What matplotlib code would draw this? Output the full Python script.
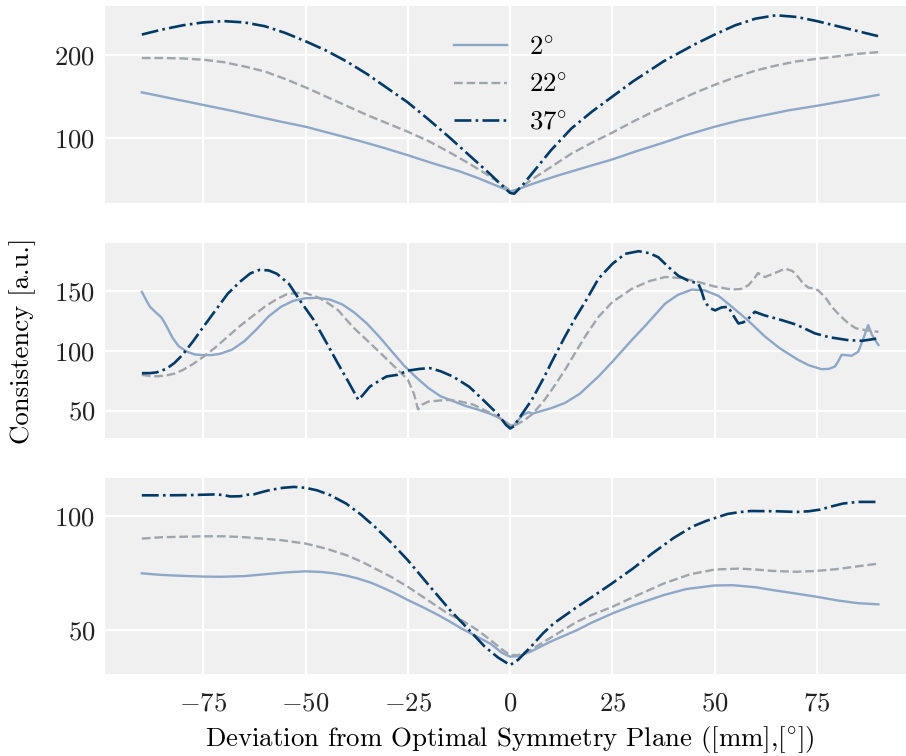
import numpy as np
import matplotlib
matplotlib.use("Agg")
import matplotlib.pyplot as plt

plt.rcParams['font.family'] = ['cmr10', 'DejaVu Serif']
plt.rcParams['mathtext.fontset'] = 'cm'
plt.rcParams['axes.formatter.use_mathtext'] = True
plt.rcParams['axes.unicode_minus'] = True

labels = ['$2^{\\circ}$', '$22^{\\circ}$', '$37^{\\circ}$']
colors = ['#8da7c9', '#9ea5ad', '#023a67']
styles = ['-', '--', '-.']

# --- top panel ---
top_x2 = [-90, -82.5, -75, -67.5, -62.5, -56, -50, -43, -37.5, -31, -25, -19, -12.5, -8, -5, -2, 0,
          2, 5, 8, 12.5, 18, 25, 31, 37.5, 43, 50, 56, 62.5, 68, 75, 82, 90]
top_y2 = [155, 147.5, 140, 132.5, 127, 120, 114, 105, 98, 89, 80, 70.5, 61, 53, 47, 41, 37,
          39.5, 45, 50, 57, 65, 75, 85, 95, 104, 114, 121.5, 128, 133.5, 139, 145, 152]
top_x22 = [-90, -85, -80, -75, -70, -65, -60, -55, -50, -45, -40, -35, -30, -25, -20, -15, -10, -5, -2, 0,
           1, 3, 5, 10, 15, 20, 25, 30, 35, 40, 45, 50, 55, 60, 65, 70, 75, 80, 85, 90]
top_y22 = [196, 196, 195.5, 194, 191, 186, 180, 171, 161, 150, 139, 128, 118, 108, 97, 84, 70, 55, 45, 38,
           36.5, 43, 50, 66, 82, 95, 107, 120, 132, 143, 154, 164, 173, 181, 187, 192, 195, 198, 201, 203]
top_x37 = [-90, -85, -80, -75, -70, -65, -60, -55, -50, -45, -40, -35, -30, -25, -20, -15, -10, -5, -2, 0,
           1, 3, 5, 10, 15, 20, 25, 30, 37.5, 45, 50, 55, 60, 65, 70, 75, 80, 85, 90]
top_y37 = [224, 230, 235, 238.5, 240, 238.5, 234, 226, 216, 205, 192, 177, 160, 143, 123, 102, 80, 58, 44, 35,
           34, 44, 56, 86, 112, 132, 150, 168, 192, 212, 224, 235, 243, 247, 245, 240, 234, 228, 222]

# --- middle panel ---
mid_x2 = [-90, -89, -88, -86.8, -85.2, -84, -82.5, -81, -79, -77, -75, -73, -71, -68, -65, -62, -59, -56,
          -53, -50, -47, -44, -41, -38, -35, -32, -29, -26, -23, -20, -17, -14, -11, -8, -5, -3, -1, 0,
          1, 2, 3, 4.5, 5.5, 7, 10, 13.4, 17, 21.6, 25, 29.7, 33, 37.9, 41, 44.4, 47.6, 51, 54.2, 58,
          62.3, 66, 70.4, 73, 76.1, 78, 79.4, 80.3, 81, 82, 83.5, 85.1, 86.5, 87.5, 88.5, 90]
mid_y2 = [149.5, 143, 137, 133, 128, 121, 111, 104, 99.4, 97, 96.5, 96.5, 97.5, 101, 108, 118, 129, 137,
          142, 144.2, 144.5, 143, 139, 132, 123, 112, 100, 88, 78, 69, 62, 58, 54, 51, 47.5, 44.5, 40, 37,
          38, 42, 46, 48.6, 47.5, 49, 52, 56.4, 64, 78.6, 91, 109, 121, 139.7, 147, 151.4, 150.8, 146, 137, 126,
          112, 102, 92.5, 88, 84.7, 85, 87, 92, 96.7, 96.5, 96, 99.4, 112, 121.7, 113, 105]
mid_x22 = [-90, -88, -86, -84, -82, -80, -77.5, -75, -72, -69, -66, -63, -60, -57, -54.6, -52, -50, -47,
           -44.9, -42, -38.4, -35, -31, -28, -25, -23.5, -22.5, -21.5, -20, -17, -14.7, -12, -9, -6, -2.5,
           -1, 0.5, 2, 3.5, 5.3, 8, 10.5, 13.4, 16, 18.5, 21.6, 25, 29.7, 34, 37.9, 42, 46, 50, 54.2, 56.5,
           58.2, 59.5, 60.6, 61.5, 62.3, 64.5, 67.2, 69, 70.4, 71.5, 72.9, 74, 75.3, 77, 78.6, 80.5, 82.7,
           84.5, 86.7, 90]
mid_y22 = [80, 79, 78.8, 79.5, 81, 84, 89, 95, 103, 112, 121, 129, 137, 143.5, 147.5, 148.6, 148.5, 145,
           141, 134, 120, 109, 96, 86, 76, 64, 51, 55, 57.5, 58.5, 59, 57.5, 55, 50, 44,
           40, 37, 39, 42, 46.7, 57, 69, 84, 99, 113, 128.6, 141, 152, 158.5, 162, 161, 157.8, 154, 151.4, 152,
           155, 160, 165.3, 163, 162, 165, 169, 167, 162, 157, 153, 152.5, 150.8, 145, 137, 130, 123,
           119, 117.5, 116]
mid_x37 = [-90, -88, -86.4, -84, -82, -80, -77.5, -75, -72, -69, -66, -63.5, -61.2, -59, -57, -54, -51.4,
           -48, -44.9, -42, -39.5, -37.1, -36, -34.3, -32, -30.2, -27.5, -25, -22, -19.6, -17, -14, -10,
           -6.6, -3, -1, 0, 1, 2, 3.5, 5.3, 8, 10.5, 13.4, 16, 18.5, 21.6, 25, 28.1, 31.4, 34, 36.2, 38.5,
           41.1, 43.5, 46, 46.8, 47.6, 48.8, 50.1, 51.7, 53.3, 54.5, 55.8, 57, 58.2, 59.8, 62, 66.4, 70,
           74.5, 78, 82.7, 86, 88, 90]
mid_y37 = [81.4, 81.4, 82, 85, 90, 97, 108, 120, 134, 148, 158, 165, 168, 167.5, 164.7, 156, 142.5,
           126, 107, 89, 74, 59, 63, 70, 75, 78.6, 80, 83.5, 85, 85.6, 83, 78.6, 70,
           59, 47, 38, 35, 37, 42.5, 50, 59, 76, 93, 112, 128, 142, 160.6, 173, 181.4, 183.6, 182, 178.6, 171,
           163, 159, 156.4, 150, 141, 136, 134, 136.5, 137, 130, 123, 124, 127, 132.8, 130, 125.8, 122,
           114.7, 111.5, 109, 108.5, 109.5, 110.6]

# --- bottom panel ---
bot_x2 = [-90, -85, -80, -75, -70.6, -65, -61.3, -55, -50, -46, -43, -40, -37.3, -34, -31, -28, -25,
          -21.5, -18, -15, -11.9, -8, -4.8, -2, 0, 2, 5, 10, 16.4, 20, 25, 30, 37.6, 43, 50, 54.5, 60,
          64.4, 70, 75, 80, 85, 90]
bot_y2 = [74.9, 74.2, 73.8, 73.5, 73.4, 73.7, 74.3, 75.3, 75.8, 75.5, 74.9, 73.9, 72.7, 70.8, 68.5, 66, 63.2,
          60.2, 57, 54, 50.7, 47, 44, 40, 38.3, 38.5, 40.5, 45, 50, 53.3, 57.3, 60.8, 65.4, 68, 69.6, 69.7, 68.8,
          67.5, 66, 64.6, 63, 61.8, 61.3]
bot_x22 = [-90, -85, -80, -75, -70, -66, -62.7, -56, -50, -45, -40, -36, -33, -29, -25, -20, -15, -11.9,
           -8, -4.8, -2, 0, 2, 5, 10.7, 16.4, 20, 25, 30, 37.6, 44, 50, 56, 60, 64, 70, 75, 80, 85, 90]
bot_y22 = [90.2, 90.8, 91, 91.2, 91.2, 90.9, 90.5, 89.5, 88, 85.8, 82.9, 79.8, 77, 73.3, 69, 63, 57, 54.4,
           50, 45.6, 41.5, 39, 39, 41.2, 47.5, 53.7, 56.7, 60.2, 64.4, 70.5, 74.5, 76.6, 77, 76.6, 76, 75.6, 76,
           76.8, 78, 79.2]
bot_x37 = [-90, -84, -78.2, -72, -70, -68.4, -66, -64, -62.7, -60.5, -58.5, -55.5, -52.8, -50, -47.2, -44,
           -40.1, -36.5, -33, -29, -25, -20, -14.7, -10, -6.2, -3, 0, 2, 5.1, 8, 10.7, 13.5, 16.4, 20, 24.9,
           30, 34.7, 40, 44.6, 48, 53.1, 56, 58.8, 65, 70.1, 73, 75.7, 78.5, 81.4, 85, 90]
bot_y37 = [109.2, 109.2, 109.3, 109.6, 109.3, 108.7, 108.8, 109.5, 109.6, 110.7, 111.6, 112.5, 112.9, 112.5,
           111.4, 109.3, 105.6, 100.8, 95.3, 88.3, 80.7, 70, 58.8, 50, 42.7, 38, 34.6, 37, 42.7, 48.5, 53,
           56.5, 60.2, 64.5, 70.5, 77, 83.6, 90.5, 95.5, 98, 101, 101.8, 102.3, 102.2, 101.9, 102.2, 102.9,
           104.3, 105.6, 106.3, 106.3]

panels = [
    ([top_x2, top_x22, top_x37], [top_y2, top_y22, top_y37], (23, 258), [100, 200]),
    ([mid_x2, mid_x22, mid_x37], [mid_y2, mid_y22, mid_y37], (27, 190.5), [50, 100, 150]),
    ([bot_x2, bot_x22, bot_x37], [bot_y2, bot_y22, bot_y37], (30.7, 116.8), [50, 100]),
]
# axes boxes in figure fraction (bottom, top)
boxes = [(0.7315, 0.992), (0.4206, 0.6786), (0.1085, 0.3677)]
fs = 19.3

fig = plt.figure(figsize=(9.06, 7.56), dpi=100)
axes = []
for (xs, ys, ylim, yt), (b, t) in zip(panels, boxes):
    ax = fig.add_axes([0.1159, b, 1.0 - 0.1159, t - b])
    ax.set_facecolor('#f0f0f0')
    for s in ax.spines.values():
        s.set_visible(False)
    ax.grid(True, color='white', linewidth=1.6)
    ax.set_axisbelow(True)
    for x, y, c, ls, lab in zip(xs, ys, colors, styles, labels):
        lw = 1.9 if ls == '-.' else 1.7
        ax.plot(x, y, color=c, linestyle=ls, linewidth=lw, label=lab)
    ax.set_xlim(-99, 96.75)
    ax.set_ylim(*ylim)
    ax.set_yticks(yt)
    ax.set_xticks([-75, -50, -25, 0, 25, 50, 75])
    ax.tick_params(length=0, labelsize=fs, colors='#222222')
    ax.tick_params(axis='x', pad=13)
    ax.tick_params(axis='y', pad=7)
    axes.append(ax)

for ax in axes[:2]:
    ax.tick_params(labelbottom=False)

axes[0].legend(loc='upper center', frameon=False, fontsize=fs, bbox_to_anchor=(0.506, 0.97))
axes[1].set_ylabel('Consistency [a.u.]', fontsize=fs, labelpad=13)
axes[2].set_xlabel('Deviation from Optimal Symmetry Plane ([mm],[$^{\\circ}$])', fontsize=fs)
axes[2].xaxis.set_label_coords(0.5056, -0.255)

fig.savefig('out.png', dpi=100)
